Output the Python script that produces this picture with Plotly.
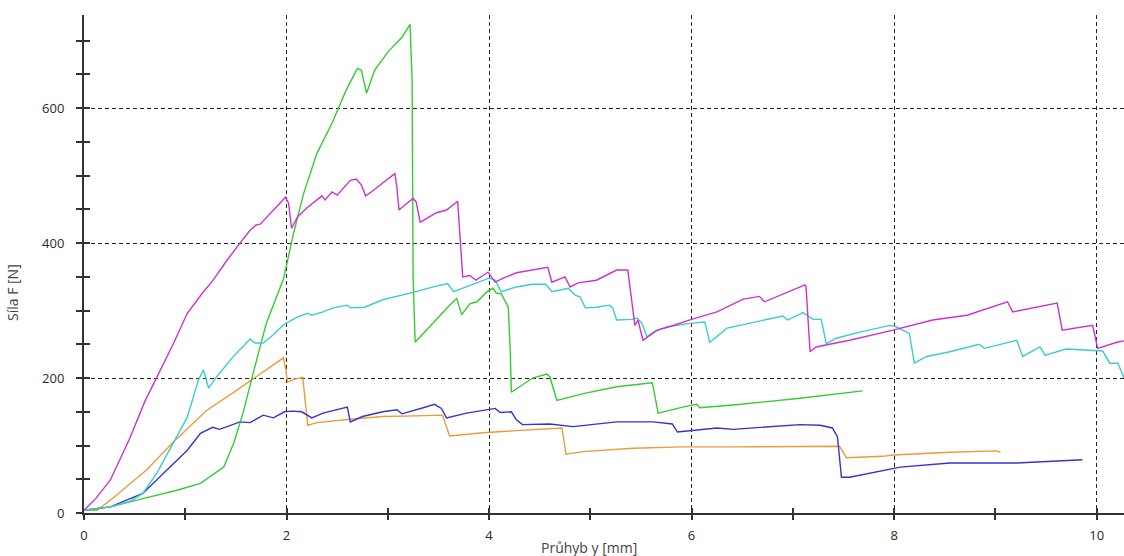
import plotly.graph_objects as go

# Deflection y [mm] vs. force F [N] for five specimens
mag_x = [0.0, 0.12, 0.26, 0.45, 0.6, 0.72, 0.88, 1.02, 1.17, 1.27, 1.4, 1.54, 1.64, 1.70, 1.74, 1.99, 2.02, 2.05,
         2.11, 2.2, 2.30, 2.35, 2.38, 2.45, 2.50, 2.63, 2.69, 2.74, 2.78, 2.84, 2.95, 3.02, 3.07, 3.09, 3.11, 3.19,
         3.25, 3.28, 3.32, 3.39, 3.48, 3.58, 3.69, 3.70, 3.74, 3.81, 3.87, 3.94, 3.99, 4.06, 4.14, 4.27, 4.43, 4.58,
         4.62, 4.75, 4.80, 4.88, 5.06, 5.26, 5.37, 5.41, 5.44, 5.47, 5.52, 5.66, 5.78, 6.0, 6.25, 6.51, 6.67, 6.72,
         7.05, 7.12, 7.13, 7.17, 7.23, 7.56, 7.99, 8.38, 8.72, 9.12, 9.17, 9.61, 9.66, 9.96, 10.01, 10.20, 10.30]
mag_y = [4, 22, 49, 110, 165, 201, 250, 296, 326, 344, 372, 400, 419, 427, 428, 468, 459, 422,
         439, 452, 464, 470, 464, 476, 471, 493, 495, 486, 470, 476, 489, 498, 503, 483, 449, 459,
         466, 461, 431, 437, 445, 449, 462, 439, 350, 352, 345, 352, 357, 342, 348, 356, 360, 364,
         342, 350, 335, 341, 345, 360, 360, 311, 278, 286, 256, 271, 276, 287, 298, 317, 321, 313,
         333, 338, 335, 239, 246, 256, 271, 286, 293, 313, 298, 311, 271, 278, 244, 253, 256]

cyan_x = [0.0, 0.26, 0.45, 0.58, 0.72, 0.88, 1.02, 1.13, 1.18, 1.23, 1.31, 1.47, 1.64, 1.69, 1.77, 1.87, 1.97,
          2.10, 2.21, 2.25, 2.36, 2.46, 2.60, 2.63, 2.77, 2.95, 3.15, 3.25, 3.45, 3.59, 3.65, 3.78, 3.96, 4.0,
          4.06, 4.12, 4.27, 4.43, 4.56, 4.62, 4.78, 4.85, 4.90, 4.95, 5.06, 5.19, 5.22, 5.26, 5.41, 5.46, 5.51,
          5.56, 5.62, 5.76, 5.98, 6.13, 6.18, 6.35, 6.57, 6.90, 6.95, 7.10, 7.20, 7.28, 7.33, 7.43, 7.66, 7.96,
          8.02, 8.15, 8.20, 8.32, 8.55, 8.84, 8.89, 9.21, 9.27, 9.44, 9.49, 9.70, 10.06, 10.13, 10.21, 10.27]
cyan_y = [4, 9, 17, 29, 59, 103, 142, 197, 212, 185, 202, 231, 258, 252, 252, 264, 279,
          290, 296, 293, 298, 304, 308, 304, 305, 316, 323, 327, 335, 340, 328, 335, 345, 348,
          345, 328, 335, 339, 339, 328, 333, 323, 320, 304, 305, 308, 304, 286, 287, 289, 281,
          261, 268, 276, 281, 283, 253, 274, 281, 292, 286, 297, 287, 287, 251, 259, 268, 278,
          276, 266, 222, 232, 239, 250, 244, 256, 232, 246, 234, 243, 240, 222, 222, 200]

green_x = [0.0, 0.26, 0.6, 0.9, 1.15, 1.38, 1.48, 1.57, 1.67, 1.80, 1.97, 2.07, 2.17, 2.30, 2.45, 2.59, 2.70,
           2.74, 2.79, 2.87, 3.0, 3.14, 3.22, 3.24, 3.25, 3.27, 3.61, 3.68, 3.73, 3.81, 3.88, 3.98, 4.04, 4.07,
           4.12, 4.19, 4.21, 4.22, 4.43, 4.57, 4.60, 4.67, 4.93, 5.26, 5.61, 5.62, 5.67, 5.91, 6.05, 6.08, 6.41,
           6.74, 7.07, 7.69]
green_y = [4, 9, 22, 33, 44, 68, 104, 148, 207, 281, 347, 415, 474, 533, 578, 627, 659,
           656, 622, 656, 683, 705, 724, 641, 350, 253, 308, 318, 294, 310, 313, 328, 333, 326,
           325, 305, 237, 179, 200, 206, 202, 167, 177, 187, 193, 187, 148, 157, 161, 156, 160,
           165, 170, 181]

orange_x = [0.0, 0.13, 0.26, 0.62, 0.88, 1.21, 1.47, 1.80, 1.97, 1.99, 2.01, 2.07, 2.16, 2.21, 2.30, 2.63, 2.95,
            3.28, 3.54, 3.61, 3.94, 4.27, 4.72, 4.76, 4.93, 5.42, 5.91, 6.41, 7.07, 7.46, 7.53, 7.89, 7.99, 8.55,
            9.01, 9.05]
orange_y = [4, 4, 19, 64, 105, 152, 178, 212, 230, 215, 194, 198, 201, 130, 134, 139, 143,
            144, 145, 114, 119, 122, 126, 87, 91, 96, 98, 98, 98, 99, 82, 84, 86, 90,
            92, 90]

blue_x = [0.0, 0.26, 0.58, 0.82, 1.02, 1.15, 1.27, 1.34, 1.54, 1.64, 1.77, 1.87, 1.98, 2.06, 2.15, 2.25, 2.36,
          2.60, 2.63, 2.75, 2.95, 3.09, 3.14, 3.35, 3.46, 3.53, 3.58, 3.78, 3.94, 4.06, 4.11, 4.22, 4.27, 4.33,
          4.60, 4.83, 5.26, 5.62, 5.81, 5.86, 6.25, 6.41, 7.07, 7.27, 7.39, 7.44, 7.48, 7.56, 8.06, 8.55, 9.21,
          9.64, 9.86]
blue_y = [4, 9, 29, 64, 93, 118, 127, 124, 135, 134, 145, 141, 150, 151, 150, 141, 148,
          157, 135, 143, 150, 153, 147, 156, 161, 155, 141, 148, 152, 155, 149, 150, 138, 131,
          132, 128, 135, 135, 132, 120, 126, 124, 131, 130, 126, 113, 53, 53, 68, 74, 74,
          77, 79]

series = [
    (orange_x, orange_y, "#ee9a3a"),
    (blue_x, blue_y, "#3434cc"),
    (green_x, green_y, "#33cc33"),
    (cyan_x, cyan_y, "#3ccccc"),
    (mag_x, mag_y, "#cc33cc"),
]

X_RANGE = [0, 10.27]
Y_RANGE = [0, 738]
AXIS_COL = "#333333"
FONT = "Open Sans, Noto Sans, sans-serif"

fig = go.Figure()
for xs, ys, col in series:
    fig.add_trace(go.Scatter(x=xs, y=ys, mode="lines", line=dict(color=col, width=1.4),
                             hoverinfo="skip", showlegend=False))

# empty trace that keeps the overlay axes (inner tick halves) alive
fig.add_trace(go.Scatter(x=[], y=[], xaxis="x2", yaxis="y2", showlegend=False))

grid = dict(showgrid=True, gridcolor="#222222", gridwidth=1.3, griddash="4px,3px")

fig.update_layout(
    width=1124, height=556,
    margin=dict(l=84, r=0, t=15, b=43),
    paper_bgcolor="white", plot_bgcolor="white",
    font=dict(family=FONT, size=13, color="#2a2a2a"),
    xaxis=dict(range=X_RANGE, tickvals=[0, 2, 4, 6, 8, 10], ticks="outside", ticklen=5,
               tickwidth=1.5, tickcolor=AXIS_COL, showline=True, linecolor=AXIS_COL, linewidth=2,
               zeroline=False, ticklabelstandoff=4,
               minor=dict(dtick=1, tick0=0, ticks="outside", ticklen=5, tickwidth=1.5,
                          tickcolor=AXIS_COL, showgrid=False),
               **grid),
    yaxis=dict(range=Y_RANGE, tickvals=[0, 200, 400, 600], ticks="outside", ticklen=6,
               tickwidth=1.5, tickcolor=AXIS_COL, showline=True, linecolor=AXIS_COL, linewidth=2,
               zeroline=False, ticklabelstandoff=9,
               minor=dict(dtick=50, tick0=0, ticks="outside", ticklen=6, tickwidth=1.5,
                          tickcolor=AXIS_COL, showgrid=False),
               **grid),
    xaxis2=dict(range=X_RANGE, overlaying="x", anchor="y2", side="bottom", ticks="inside",
                ticklen=5, tickwidth=1.5, tickcolor=AXIS_COL, dtick=1, tick0=0,
                showticklabels=False, showgrid=False, zeroline=False, showline=False),
    yaxis2=dict(range=Y_RANGE, overlaying="y", anchor="x2", side="left", ticks="inside",
                ticklen=6, tickwidth=1.5, tickcolor=AXIS_COL, dtick=50, tick0=0,
                showticklabels=False, showgrid=False, zeroline=False, showline=False),
    annotations=[
        dict(text="Průhyb y [mm]", x=589, y=556 - 547, xref="paper", yref="paper",
             xanchor="center", yanchor="middle",
             showarrow=False, font=dict(size=14, color="#444444", family=FONT)),
        dict(text="Síla F [N]", x=12, y=556 - 293, xref="paper", yref="paper", textangle=-90,
             xanchor="center", yanchor="middle",
             showarrow=False, font=dict(size=14, color="#444444", family=FONT)),
    ],
)

# annotation positions above are given in pixels; convert them to paper fractions
pw, ph = 1124 - 84, 556 - 15 - 43
for ann in fig.layout.annotations:
    ann.x = (ann.x - 84) / pw
    ann.y = (ann.y - 43) / ph

fig.write_html("out.html")
